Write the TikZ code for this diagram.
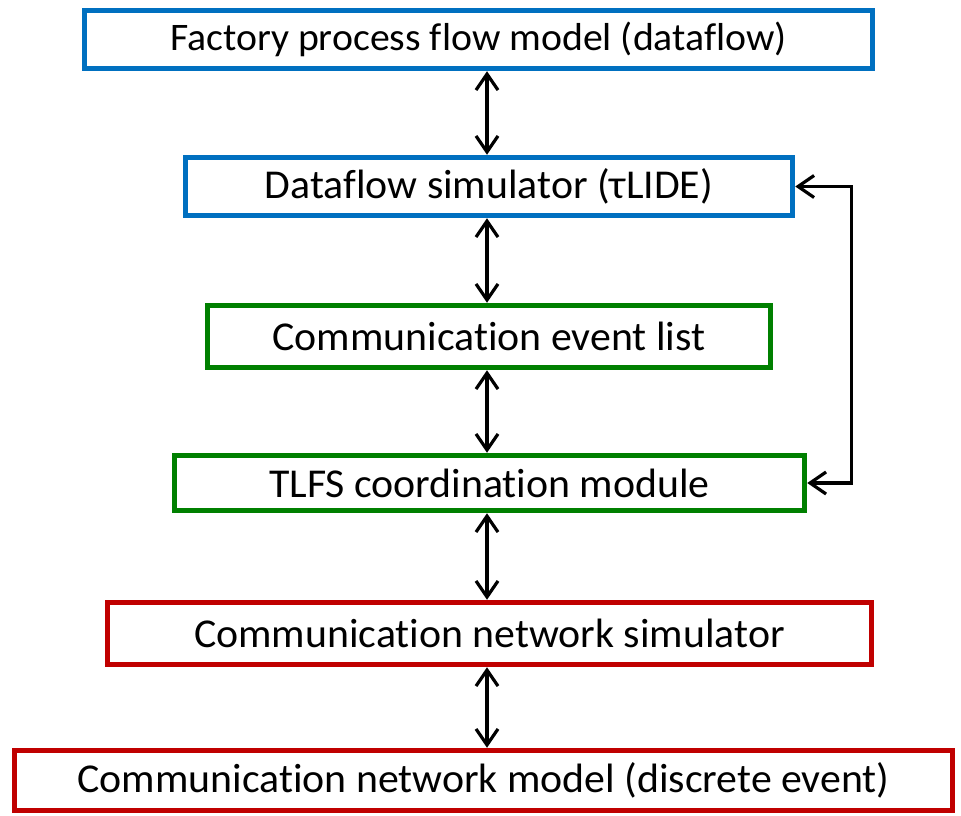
\documentclass[tikz,border=0pt]{standalone}
\usepackage{fontspec}
\setmainfont{Carlito}[Ligatures=NoCommon, FakeStretch=1.02]
\usepackage{tikz}
\usetikzlibrary{arrows.meta,positioning}
\definecolor{boxblue}{RGB}{0,112,192}
\definecolor{boxgreen}{RGB}{0,128,0}
\definecolor{boxred}{RGB}{192,0,0}

\begin{document}
\begin{tikzpicture}[x=1pt, y=-1pt, >={Straight Barb[length=16pt,width=22pt]},
    font=\fontsize{41}{49}\selectfont,
    blk/.style={draw, line width=5.5pt, inner sep=0pt, minimum height=58pt},
    link/.style={<->, line width=3.2pt}]
  \useasboundingbox (0,0) rectangle (961,816);
  \node (fpm) [blk, draw=boxblue, minimum width=788pt, font=\fontsize{39}{47}\selectfont] at (478.5,39.5) {Factory process flow model (dataflow)};
  \node (dfs) [blk, draw=boxblue, minimum width=607pt] at (489,186.5) {Dataflow simulator (τLIDE)};
  \node (cel) [blk, draw=boxgreen, minimum width=563pt, minimum height=62pt] at (489,336.5) {Communication event list};
  \node (tlfs) [blk, draw=boxgreen, minimum width=630pt, minimum height=55pt] at (489.5,483) {TLFS coordination module};
  \node (cns) [blk, draw=boxred, minimum width=764pt, minimum height=62pt] at (489.5,633.5) {Communication network simulator};
  \node (cnm) [blk, draw=boxred, minimum width=938pt, minimum height=60pt] at (483.5,780.5) {Communication network model (discrete event)};
  \draw[link] (fpm.south -| 487,0) -- (dfs.north -| 487,0);
  \draw[link] (dfs.south -| 487,0) -- (cel.north -| 487,0);
  \draw[link] (cel.south -| 487,0) -- (tlfs.north -| 487,0);
  \draw[link] (tlfs.south -| 487,0) -- (cns.north -| 487,0);
  \draw[link] (cns.south -| 487,0) -- (cnm.north -| 487,0);
  \draw[link] (tlfs.east) -- ++(44,0) |- (dfs.east);
\end{tikzpicture}
\end{document}
